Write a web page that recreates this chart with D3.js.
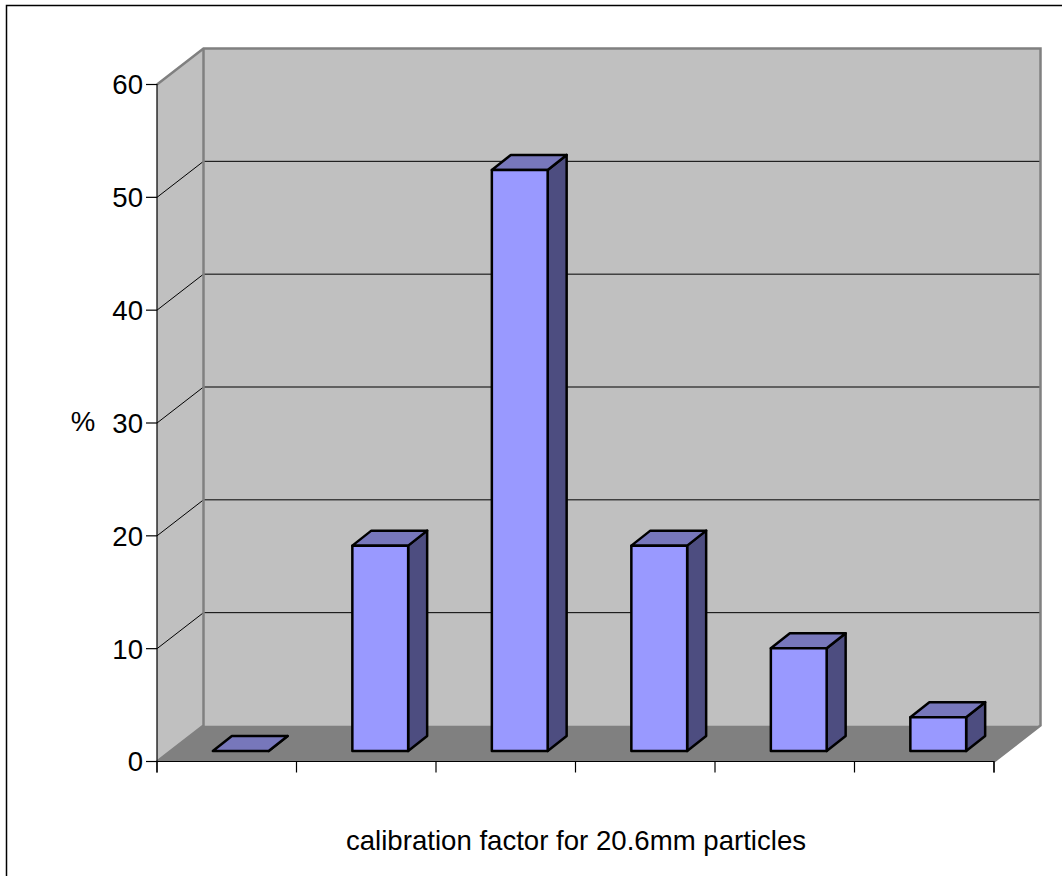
<!DOCTYPE html>
<html>
<head>
<meta charset="utf-8">
<script src="https://cdn.jsdelivr.net/npm/d3@7"></script>
<style>
html, body { margin: 0; padding: 0; background: #fff; overflow: hidden; }
svg { display: block; }
text { font-family: "Liberation Sans", Arial, sans-serif; fill: #000; }
</style>
</head>
<body>
<svg id="chart" width="1062" height="876"></svg>
<script>
// Percentage of particles in each calibration-factor bin
const bins = ["a", "b", "c", "d", "e", "f"];
const percent = [0, 18.2, 51.5, 18.2, 9.1, 3.0];
const yTicks = [0, 10, 20, 30, 40, 50, 60];
const xTitle = "calibration factor for 20.6mm particles";
const yTitle = "%";

const svg = d3.select("#chart");
const labelSize = 27.6;

// Plot box front face, and the oblique offset of the back wall
const boxLeft = 157, boxRight = 994, boxTop = 84.5, boxBottom = 761.5;
const depthX = 46.5, depthY = -36;

// Where the bars stand inside the box, and how deep they are
const barShiftX = 14, barShiftY = -10.5;
const barDepthX = 19, barDepthY = -15;

const x = d3.scaleBand().domain(bins).range([boxLeft, boxRight]).paddingInner(0.6).paddingOuter(0.3);
const xEdges = d3.scalePoint().domain(d3.range(bins.length + 1)).range([boxLeft, boxRight]);
const y = d3.scaleLinear().domain([0, 60]).range([boxBottom, boxTop]);

const line = d3.line();
const poly = pts => line(pts) + "Z";

// Outer chart frame, open past the right and bottom edges of the page
svg.append("rect")
  .attr("x", 6.5).attr("y", 5.5).attr("width", 1070).attr("height", 890)
  .attr("fill", "#fff").attr("stroke", "#000").attr("stroke-width", 1.5);

// Back wall
svg.append("path")
  .attr("d", poly([[boxLeft + depthX, boxTop + depthY], [boxRight + depthX, boxTop + depthY],
                   [boxRight + depthX, boxBottom + depthY], [boxLeft + depthX, boxBottom + depthY]]))
  .attr("fill", "#c0c0c0");

// Side wall
svg.append("path")
  .attr("d", poly([[boxLeft, boxTop], [boxLeft + depthX, boxTop + depthY],
                   [boxLeft + depthX, boxBottom + depthY], [boxLeft, boxBottom]]))
  .attr("fill", "#c0c0c0");

// Floor
svg.append("path")
  .attr("d", poly([[boxLeft, boxBottom], [boxLeft + depthX, boxBottom + depthY],
                   [boxRight + depthX, boxBottom + depthY], [boxRight, boxBottom]]))
  .attr("fill", "#808080");

// Gridlines wrap from the side wall across the back wall
svg.append("g").selectAll("path")
  .data(yTicks.filter(t => t > 0 && t < 60))
  .join("path")
  .attr("d", t => line([[boxLeft, y(t)], [boxLeft + depthX, y(t) + depthY], [boxRight + depthX, y(t) + depthY]]))
  .attr("fill", "none").attr("stroke", "#000").attr("stroke-width", 1);

// Wall edges
svg.append("path")
  .attr("d", line([[boxLeft, boxTop], [boxLeft + depthX, boxTop + depthY], [boxRight + depthX, boxTop + depthY],
                   [boxRight + depthX, boxBottom + depthY], [boxRight, boxBottom]]))
  .attr("fill", "none").attr("stroke", "#808080").attr("stroke-width", 2.5);
svg.append("path")
  .attr("d", line([[boxLeft + depthX, boxTop + depthY], [boxLeft + depthX, boxBottom + depthY], [boxLeft, boxBottom]]))
  .attr("fill", "none").attr("stroke", "#808080").attr("stroke-width", 2.5);

// Axes
const yAxis = svg.append("g")
  .attr("transform", `translate(${boxLeft},0)`)
  .call(d3.axisLeft(y).tickValues(yTicks).tickSize(11).tickPadding(3).offset(0).tickFormat(d3.format("d")));
yAxis.selectAll("text").attr("font-size", labelSize).attr("dy", "0.36em")
  .style("font-family", '"Liberation Sans", Arial, sans-serif');

const xAxis = svg.append("g")
  .attr("transform", `translate(0,${boxBottom})`)
  .call(d3.axisBottom(xEdges).tickSize(11).offset(0).tickFormat(""));

svg.selectAll(".domain, .tick line").attr("stroke", "#000").attr("stroke-width", 1.2);

// Bars: front face, top and right side
const bars = svg.append("g").selectAll("g")
  .data(bins.map((b, i) => ({ bin: b, value: percent[i] })))
  .join("g")
  .attr("stroke", "#000").attr("stroke-width", 2.5).attr("stroke-linejoin", "round");

const x0 = d => x(d.bin) + barShiftX;
const x1 = d => x0(d) + x.bandwidth();
const yB = () => boxBottom + barShiftY;
const yT = d => y(d.value) + barShiftY;

bars.append("path")
  .attr("fill", "#4d4d80")
  .attr("d", d => poly([[x1(d), yT(d)], [x1(d) + barDepthX, yT(d) + barDepthY],
                        [x1(d) + barDepthX, yB() + barDepthY], [x1(d), yB()]]));
bars.append("path")
  .attr("fill", "#7777bb")
  .attr("d", d => poly([[x0(d), yT(d)], [x0(d) + barDepthX, yT(d) + barDepthY],
                        [x1(d) + barDepthX, yT(d) + barDepthY], [x1(d), yT(d)]]));
bars.filter(d => d.value > 0).append("rect")
  .attr("fill", "#9999ff")
  .attr("x", x0).attr("y", yT)
  .attr("width", x.bandwidth())
  .attr("height", d => yB() - yT(d));

// Axis titles
svg.append("text")
  .attr("x", 576).attr("y", 850).attr("text-anchor", "middle").attr("font-size", labelSize)
  .text(xTitle);
svg.append("text")
  .attr("x", 83).attr("y", 431).attr("text-anchor", "middle").attr("font-size", labelSize)
  .text(yTitle);
</script>
</body>
</html>
